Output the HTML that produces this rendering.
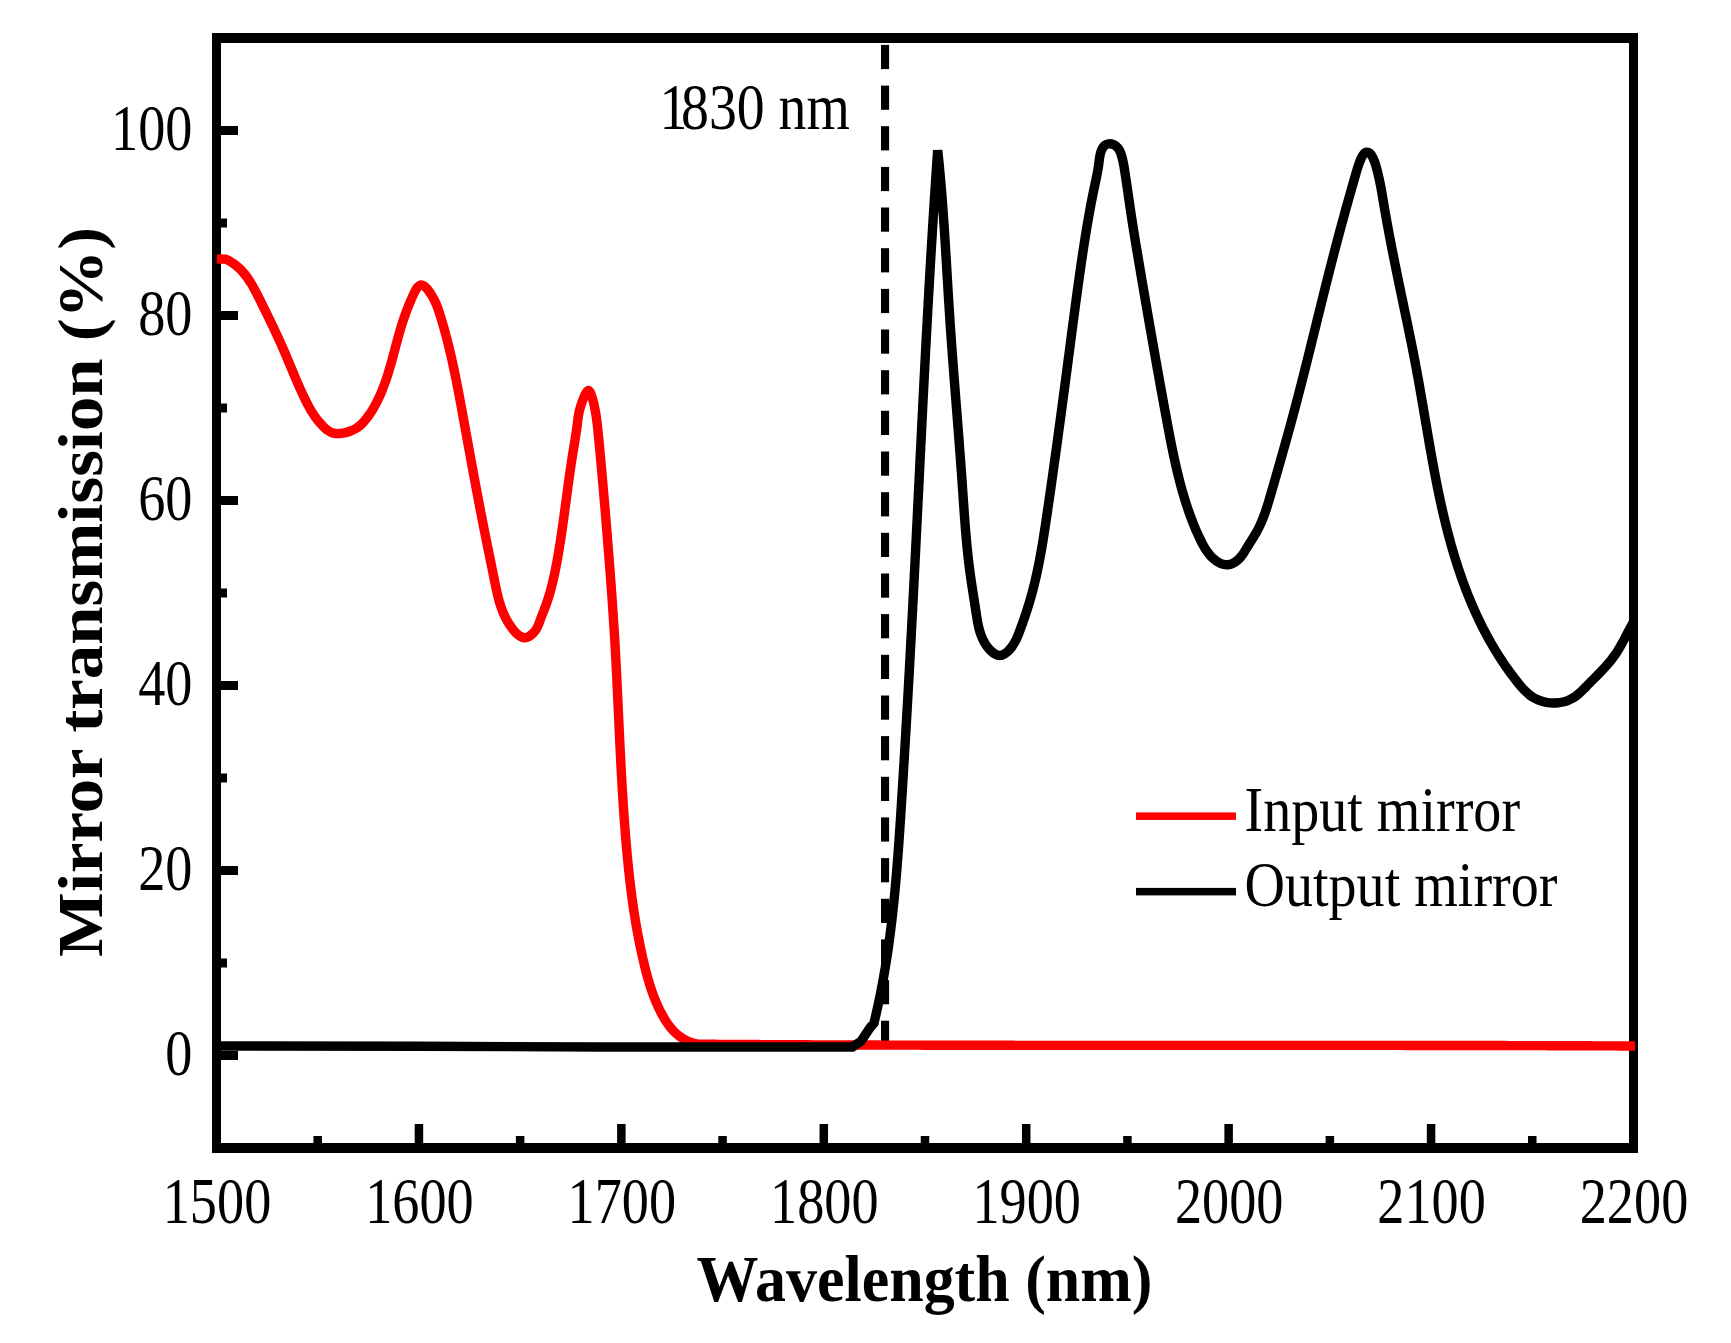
<!DOCTYPE html>
<html lang="en"><head><meta charset="utf-8"><title>Mirror transmission</title>
<style>html,body{margin:0;padding:0;background:#fff}svg{display:block}text{font-family:"Liberation Serif",serif;fill:#000}</style></head><body>
<svg width="1731" height="1343" viewBox="0 0 1731 1343">
<rect width="1731" height="1343" fill="#fff"/>
<g fill="#000">
<rect x="212" y="33" width="1426" height="10"/>
<rect x="212" y="1143" width="1426" height="10"/>
<rect x="212" y="33" width="9" height="1120"/>
<rect x="1629" y="33" width="9" height="1120"/>
<rect x="313.46" y="1136" width="8.5" height="8"/>
<rect x="414.68" y="1124" width="8.5" height="20"/>
<rect x="515.89" y="1136" width="8.5" height="8"/>
<rect x="617.11" y="1124" width="8.5" height="20"/>
<rect x="718.32" y="1136" width="8.5" height="8"/>
<rect x="819.54" y="1124" width="8.5" height="20"/>
<rect x="920.75" y="1136" width="8.5" height="8"/>
<rect x="1021.96" y="1124" width="8.5" height="20"/>
<rect x="1123.18" y="1136" width="8.5" height="8"/>
<rect x="1224.39" y="1124" width="8.5" height="20"/>
<rect x="1325.61" y="1136" width="8.5" height="8"/>
<rect x="1426.82" y="1124" width="8.5" height="20"/>
<rect x="1528.04" y="1136" width="8.5" height="8"/>
<rect x="220" y="1051.00" width="18" height="9"/>
<rect x="220" y="958.50" width="7" height="9"/>
<rect x="220" y="866.00" width="18" height="9"/>
<rect x="220" y="773.50" width="7" height="9"/>
<rect x="220" y="681.00" width="18" height="9"/>
<rect x="220" y="588.50" width="7" height="9"/>
<rect x="220" y="496.00" width="18" height="9"/>
<rect x="220" y="403.50" width="7" height="9"/>
<rect x="220" y="311.00" width="18" height="9"/>
<rect x="220" y="218.50" width="7" height="9"/>
<rect x="220" y="126.00" width="18" height="9"/>
<rect x="881" y="44.9" width="8.1" height="24.2"/>
<rect x="881" y="85.6" width="8.1" height="24.2"/>
<rect x="881" y="126.2" width="8.1" height="24.2"/>
<rect x="881" y="166.9" width="8.1" height="24.2"/>
<rect x="881" y="207.5" width="8.1" height="24.2"/>
<rect x="881" y="248.2" width="8.1" height="24.2"/>
<rect x="881" y="288.9" width="8.1" height="24.2"/>
<rect x="881" y="329.5" width="8.1" height="24.2"/>
<rect x="881" y="370.2" width="8.1" height="24.2"/>
<rect x="881" y="410.8" width="8.1" height="24.2"/>
<rect x="881" y="451.5" width="8.1" height="24.2"/>
<rect x="881" y="492.2" width="8.1" height="24.2"/>
<rect x="881" y="532.8" width="8.1" height="24.2"/>
<rect x="881" y="573.5" width="8.1" height="24.2"/>
<rect x="881" y="614.1" width="8.1" height="24.2"/>
<rect x="881" y="654.8" width="8.1" height="24.2"/>
<rect x="881" y="695.5" width="8.1" height="24.2"/>
<rect x="881" y="736.1" width="8.1" height="24.2"/>
<rect x="881" y="776.8" width="8.1" height="24.2"/>
<rect x="881" y="817.4" width="8.1" height="24.2"/>
<rect x="881" y="858.1" width="8.1" height="24.2"/>
<rect x="881" y="898.8" width="8.1" height="24.2"/>
<rect x="881" y="939.4" width="8.1" height="24.2"/>
<rect x="881" y="980.1" width="8.1" height="24.2"/>
<rect x="881" y="1020.7" width="8.1" height="24.2"/>
</g>
<path d="M216.80 258.90 L226.00 259.20 C227.62 259.96 229.16 260.79 230.63 261.69 C232.10 262.58 233.50 263.53 234.84 264.55 C236.18 265.56 237.45 266.63 238.67 267.74 C239.88 268.86 241.04 270.03 242.15 271.24 C243.26 272.45 244.32 273.71 245.33 275.00 C246.35 276.29 247.32 277.62 248.25 278.97 C249.19 280.33 250.09 281.72 250.95 283.13 C251.82 284.55 252.66 285.98 253.48 287.44 C254.29 288.89 255.09 290.36 255.86 291.85 C256.64 293.33 257.40 294.83 258.15 296.32 C258.91 297.82 259.65 299.33 260.39 300.83 C261.13 302.33 261.87 303.83 262.60 305.33 C263.34 306.83 264.08 308.32 264.81 309.81 C265.54 311.31 266.27 312.80 267.00 314.29 C267.73 315.79 268.46 317.28 269.18 318.77 C269.91 320.26 270.63 321.76 271.35 323.25 C272.07 324.74 272.78 326.24 273.50 327.74 C274.21 329.24 274.92 330.74 275.62 332.24 C276.33 333.74 277.03 335.25 277.72 336.76 C278.42 338.27 279.11 339.79 279.80 341.31 C280.49 342.83 281.17 344.35 281.85 345.89 C282.53 347.42 283.20 348.95 283.87 350.50 C284.54 352.04 285.21 353.59 285.87 355.14 C286.53 356.69 287.18 358.25 287.84 359.81 C288.49 361.37 289.15 362.92 289.80 364.48 C290.45 366.04 291.10 367.60 291.75 369.16 C292.40 370.72 293.05 372.27 293.70 373.82 C294.36 375.37 295.01 376.92 295.66 378.46 C296.32 380.00 296.98 381.54 297.64 383.06 C298.30 384.59 298.97 386.11 299.64 387.62 C300.31 389.13 300.98 390.63 301.67 392.12 C302.35 393.61 303.03 395.08 303.73 396.55 C304.42 398.01 305.13 399.46 305.84 400.89 C306.55 402.33 307.27 403.75 308.02 405.16 C308.77 406.57 309.54 407.97 310.35 409.36 C311.16 410.76 312.01 412.14 312.91 413.53 C313.81 414.91 314.76 416.30 315.78 417.68 C316.79 419.07 317.87 420.45 319.03 421.85 C320.19 423.24 321.43 424.65 322.74 426.01 C324.05 427.36 325.42 428.64 326.84 429.74 C328.25 430.83 329.70 431.73 331.17 432.34 C332.64 432.96 334.13 433.32 335.67 433.48 C337.21 433.65 338.79 433.61 340.43 433.45 C342.07 433.28 343.78 432.98 345.50 432.57 C347.22 432.16 348.95 431.63 350.62 430.99 C352.29 430.35 353.90 429.61 355.39 428.77 C356.89 427.93 358.24 427.00 359.48 425.99 C360.72 424.98 361.86 423.89 362.93 422.74 C364.00 421.59 365.01 420.38 366.01 419.13 C367.00 417.88 367.96 416.59 368.90 415.25 C369.84 413.92 370.75 412.55 371.64 411.14 C372.52 409.74 373.38 408.30 374.21 406.84 C375.05 405.37 375.85 403.88 376.63 402.37 C377.41 400.86 378.16 399.33 378.88 397.78 C379.61 396.23 380.31 394.67 380.98 393.09 C381.65 391.52 382.30 389.93 382.92 388.34 C383.55 386.74 384.15 385.14 384.73 383.53 C385.32 381.92 385.88 380.30 386.42 378.68 C386.97 377.06 387.50 375.43 388.01 373.80 C388.52 372.18 389.02 370.55 389.50 368.92 C389.98 367.29 390.45 365.66 390.91 364.04 C391.37 362.42 391.82 360.80 392.27 359.18 C392.71 357.57 393.14 355.96 393.57 354.36 C393.99 352.76 394.42 351.16 394.84 349.58 C395.25 348.00 395.67 346.43 396.08 344.87 C396.50 343.32 396.91 341.77 397.33 340.23 C397.75 338.69 398.17 337.16 398.59 335.63 C399.02 334.10 399.46 332.57 399.90 331.04 C400.35 329.51 400.81 327.98 401.28 326.44 C401.75 324.91 402.24 323.36 402.75 321.81 C403.25 320.25 403.78 318.69 404.33 317.11 C404.87 315.53 405.45 313.93 406.04 312.32 C406.64 310.71 407.26 309.07 407.92 307.42 C408.57 305.76 409.26 304.08 409.98 302.37 C410.70 300.66 411.45 298.92 412.25 297.15 C413.04 295.39 413.87 293.57 414.74 291.90 C415.61 290.22 416.51 288.67 417.45 287.45 C418.40 286.22 419.39 285.34 420.47 285.04 C421.55 284.75 422.74 285.11 423.97 285.95 C425.19 286.80 426.46 288.09 427.66 289.56 C428.86 291.03 430.00 292.66 431.02 294.24 C432.03 295.82 432.94 297.40 433.76 298.97 C434.59 300.55 435.32 302.12 436.00 303.69 C436.67 305.27 437.28 306.84 437.85 308.41 C438.42 309.98 438.95 311.56 439.46 313.13 C439.97 314.71 440.46 316.29 440.95 317.87 C441.43 319.46 441.91 321.04 442.38 322.63 C442.85 324.22 443.31 325.81 443.76 327.41 C444.22 329.00 444.66 330.60 445.10 332.20 C445.53 333.81 445.96 335.41 446.39 337.02 C446.81 338.62 447.22 340.23 447.63 341.84 C448.04 343.45 448.44 345.07 448.84 346.68 C449.23 348.30 449.62 349.92 450.01 351.54 C450.39 353.16 450.77 354.78 451.14 356.40 C451.51 358.03 451.88 359.65 452.24 361.28 C452.60 362.91 452.95 364.54 453.31 366.17 C453.66 367.80 454.00 369.43 454.35 371.07 C454.69 372.70 455.03 374.33 455.36 375.97 C455.69 377.61 456.02 379.24 456.35 380.88 C456.68 382.52 457.00 384.16 457.32 385.80 C457.64 387.44 457.96 389.08 458.27 390.72 C458.59 392.36 458.90 394.00 459.21 395.65 C459.52 397.29 459.83 398.93 460.13 400.57 C460.44 402.22 460.74 403.86 461.04 405.50 C461.35 407.15 461.65 408.79 461.95 410.43 C462.25 412.08 462.55 413.72 462.85 415.36 C463.15 417.00 463.44 418.65 463.74 420.29 C464.04 421.93 464.34 423.57 464.64 425.21 C464.93 426.85 465.23 428.49 465.53 430.13 C465.83 431.77 466.12 433.41 466.42 435.05 C466.72 436.69 467.02 438.33 467.32 439.97 C467.61 441.61 467.91 443.25 468.21 444.88 C468.51 446.52 468.81 448.16 469.11 449.80 C469.41 451.44 469.71 453.07 470.00 454.71 C470.30 456.35 470.60 457.98 470.90 459.62 C471.20 461.26 471.51 462.89 471.81 464.53 C472.11 466.17 472.41 467.80 472.71 469.44 C473.01 471.07 473.32 472.71 473.62 474.34 C473.92 475.98 474.23 477.62 474.53 479.25 C474.84 480.89 475.14 482.52 475.45 484.16 C475.75 485.79 476.06 487.43 476.37 489.07 C476.68 490.70 476.98 492.34 477.29 493.97 C477.60 495.61 477.91 497.24 478.22 498.88 C478.54 500.52 478.85 502.15 479.16 503.79 C479.47 505.42 479.79 507.06 480.10 508.70 C480.42 510.33 480.74 511.97 481.05 513.61 C481.37 515.25 481.69 516.88 482.01 518.52 C482.33 520.16 482.65 521.79 482.97 523.43 C483.29 525.07 483.62 526.71 483.94 528.35 C484.27 529.99 484.59 531.62 484.92 533.26 C485.25 534.90 485.58 536.54 485.91 538.18 C486.24 539.82 486.57 541.46 486.90 543.10 C487.23 544.74 487.56 546.37 487.89 548.01 C488.22 549.65 488.56 551.29 488.89 552.93 C489.22 554.56 489.55 556.20 489.89 557.84 C490.22 559.47 490.55 561.11 490.89 562.75 C491.22 564.38 491.55 566.01 491.89 567.65 C492.22 569.28 492.55 570.91 492.88 572.55 C493.21 574.18 493.55 575.81 493.88 577.44 C494.21 579.07 494.54 580.69 494.87 582.32 C495.20 583.95 495.53 585.57 495.87 587.19 C496.21 588.81 496.55 590.43 496.92 592.04 C497.28 593.66 497.66 595.26 498.06 596.86 C498.46 598.46 498.89 600.05 499.34 601.63 C499.80 603.21 500.28 604.79 500.80 606.35 C501.32 607.91 501.88 609.46 502.49 610.99 C503.09 612.53 503.74 614.05 504.44 615.56 C505.15 617.07 505.90 618.56 506.71 620.03 C507.53 621.51 508.40 622.97 509.34 624.41 C510.28 625.85 511.28 627.26 512.36 628.66 C513.44 630.06 514.60 631.45 515.83 632.72 C517.07 634.00 518.40 635.16 519.81 636.07 C521.22 636.99 522.72 637.64 524.23 637.79 C525.74 637.95 527.27 637.54 528.75 636.71 C530.23 635.88 531.66 634.67 532.95 633.38 C534.24 632.08 535.38 630.68 536.27 629.25 C537.17 627.82 537.86 626.34 538.46 624.84 C539.07 623.33 539.58 621.80 540.13 620.26 C540.68 618.72 541.27 617.17 541.88 615.62 C542.49 614.06 543.12 612.50 543.74 610.94 C544.36 609.37 544.97 607.80 545.55 606.22 C546.13 604.64 546.69 603.06 547.22 601.47 C547.76 599.88 548.27 598.28 548.77 596.68 C549.26 595.08 549.73 593.48 550.19 591.87 C550.64 590.26 551.08 588.64 551.50 587.03 C551.92 585.41 552.32 583.79 552.71 582.17 C553.10 580.54 553.48 578.92 553.84 577.29 C554.20 575.66 554.55 574.03 554.89 572.39 C555.22 570.76 555.55 569.12 555.87 567.49 C556.19 565.85 556.49 564.21 556.80 562.57 C557.10 560.94 557.39 559.30 557.68 557.66 C557.96 556.02 558.25 554.38 558.52 552.74 C558.80 551.10 559.07 549.46 559.34 547.81 C559.60 546.17 559.86 544.53 560.12 542.89 C560.38 541.25 560.63 539.61 560.88 537.97 C561.13 536.32 561.37 534.68 561.62 533.04 C561.86 531.39 562.10 529.75 562.33 528.11 C562.57 526.46 562.80 524.82 563.03 523.17 C563.26 521.53 563.49 519.88 563.72 518.24 C563.95 516.59 564.17 514.94 564.39 513.30 C564.62 511.65 564.84 510.00 565.06 508.35 C565.28 506.71 565.50 505.06 565.73 503.41 C565.95 501.76 566.17 500.11 566.39 498.46 C566.61 496.80 566.83 495.15 567.05 493.50 C567.27 491.85 567.49 490.19 567.72 488.54 C567.94 486.88 568.16 485.23 568.39 483.57 C568.62 481.92 568.84 480.26 569.08 478.60 C569.31 476.95 569.54 475.29 569.77 473.63 C570.01 471.97 570.25 470.31 570.49 468.65 C570.73 466.99 570.97 465.32 571.22 463.66 C571.47 462.00 571.72 460.33 571.98 458.67 C572.23 457.00 572.49 455.34 572.76 453.67 C573.03 452.00 573.30 450.33 573.57 448.66 C573.84 446.99 574.12 445.33 574.39 443.67 C574.67 442.01 574.94 440.35 575.21 438.71 C575.47 437.07 575.73 435.44 575.98 433.82 C576.23 432.21 576.47 430.61 576.69 429.03 C576.91 427.45 577.12 425.90 577.31 424.37 C577.49 422.83 577.66 421.33 577.85 419.81 C578.03 418.28 578.24 416.74 578.52 415.12 C578.80 413.50 579.14 411.80 579.60 409.98 C580.06 408.16 580.65 406.18 581.32 404.18 C581.99 402.17 582.74 400.15 583.51 398.26 C584.28 396.37 585.06 394.60 585.82 393.18 C586.59 391.75 587.33 390.72 588.06 390.50 C588.78 390.27 589.50 390.99 590.18 392.26 C590.85 393.54 591.49 395.33 592.07 397.15 C592.64 398.97 593.16 400.87 593.62 402.80 C594.08 404.72 594.49 406.67 594.86 408.57 C595.23 410.46 595.56 412.31 595.85 414.09 C596.14 415.88 596.40 417.62 596.63 419.32 C596.87 421.02 597.07 422.68 597.26 424.32 C597.46 425.96 597.63 427.58 597.79 429.19 C597.96 430.79 598.11 432.39 598.27 433.99 C598.42 435.59 598.58 437.19 598.73 438.80 C598.88 440.41 599.04 442.02 599.19 443.64 C599.34 445.25 599.50 446.87 599.65 448.49 C599.80 450.12 599.95 451.74 600.10 453.37 C600.26 455.00 600.41 456.63 600.56 458.26 C600.71 459.90 600.86 461.53 601.01 463.17 C601.16 464.81 601.31 466.46 601.46 468.10 C601.60 469.75 601.75 471.39 601.90 473.04 C602.05 474.69 602.20 476.35 602.34 478.00 C602.49 479.65 602.64 481.31 602.78 482.97 C602.93 484.62 603.07 486.28 603.22 487.94 C603.36 489.61 603.51 491.27 603.65 492.93 C603.80 494.60 603.94 496.26 604.08 497.93 C604.23 499.59 604.37 501.26 604.51 502.93 C604.65 504.60 604.80 506.27 604.94 507.94 C605.08 509.61 605.22 511.28 605.36 512.95 C605.50 514.62 605.64 516.29 605.78 517.96 C605.92 519.64 606.06 521.31 606.19 522.98 C606.33 524.65 606.47 526.32 606.61 528.00 C606.74 529.67 606.88 531.34 607.02 533.01 C607.15 534.68 607.29 536.36 607.43 538.03 C607.56 539.70 607.70 541.37 607.83 543.04 C607.96 544.70 608.10 546.37 608.23 548.04 C608.36 549.71 608.50 551.38 608.63 553.04 C608.76 554.71 608.89 556.37 609.02 558.04 C609.15 559.71 609.28 561.37 609.41 563.03 C609.54 564.70 609.67 566.36 609.80 568.03 C609.92 569.69 610.05 571.35 610.18 573.01 C610.30 574.68 610.43 576.34 610.55 578.00 C610.68 579.66 610.80 581.32 610.93 582.98 C611.05 584.65 611.17 586.31 611.29 587.97 C611.41 589.63 611.53 591.29 611.65 592.95 C611.77 594.61 611.89 596.27 612.01 597.93 C612.13 599.59 612.24 601.24 612.36 602.90 C612.47 604.56 612.59 606.22 612.70 607.88 C612.82 609.54 612.93 611.20 613.04 612.86 C613.15 614.52 613.26 616.18 613.37 617.83 C613.48 619.49 613.59 621.15 613.69 622.81 C613.80 624.47 613.91 626.13 614.01 627.79 C614.11 629.45 614.22 631.11 614.32 632.77 C614.42 634.43 614.52 636.09 614.62 637.75 C614.72 639.41 614.82 641.07 614.91 642.73 C615.01 644.39 615.11 646.05 615.20 647.71 C615.29 649.37 615.39 651.03 615.48 652.69 C615.57 654.35 615.66 656.02 615.75 657.68 C615.84 659.34 615.93 661.00 616.01 662.67 C616.10 664.33 616.18 665.99 616.27 667.65 C616.36 669.32 616.44 670.98 616.52 672.64 C616.61 674.31 616.69 675.97 616.77 677.63 C616.85 679.30 616.93 680.96 617.01 682.63 C617.09 684.29 617.17 685.95 617.25 687.62 C617.33 689.28 617.41 690.95 617.49 692.61 C617.57 694.28 617.65 695.94 617.72 697.61 C617.80 699.27 617.88 700.94 617.96 702.60 C618.03 704.27 618.11 705.94 618.19 707.60 C618.26 709.27 618.34 710.93 618.42 712.60 C618.50 714.26 618.57 715.93 618.65 717.60 C618.73 719.26 618.80 720.93 618.88 722.59 C618.96 724.26 619.03 725.93 619.11 727.59 C619.19 729.26 619.27 730.92 619.34 732.59 C619.42 734.26 619.50 735.92 619.58 737.59 C619.66 739.26 619.74 740.92 619.82 742.59 C619.90 744.25 619.98 745.92 620.06 747.59 C620.14 749.25 620.22 750.92 620.31 752.59 C620.39 754.25 620.47 755.92 620.56 757.58 C620.64 759.25 620.73 760.92 620.81 762.58 C620.90 764.25 620.99 765.91 621.07 767.58 C621.16 769.25 621.25 770.91 621.34 772.58 C621.43 774.24 621.52 775.91 621.62 777.57 C621.71 779.24 621.80 780.90 621.90 782.57 C621.99 784.24 622.09 785.90 622.19 787.57 C622.29 789.23 622.39 790.90 622.49 792.56 C622.59 794.22 622.69 795.89 622.80 797.55 C622.90 799.22 623.01 800.88 623.11 802.55 C623.22 804.21 623.33 805.87 623.44 807.54 C623.55 809.20 623.67 810.87 623.78 812.53 C623.90 814.19 624.01 815.86 624.13 817.52 C624.25 819.18 624.37 820.84 624.50 822.51 C624.62 824.17 624.75 825.83 624.87 827.49 C625.00 829.15 625.13 830.82 625.26 832.48 C625.40 834.14 625.53 835.80 625.67 837.46 C625.81 839.12 625.94 840.78 626.09 842.44 C626.23 844.10 626.37 845.76 626.52 847.42 C626.67 849.08 626.82 850.74 626.97 852.40 C627.12 854.06 627.28 855.72 627.44 857.37 C627.59 859.03 627.76 860.69 627.92 862.35 C628.08 864.01 628.25 865.66 628.42 867.32 C628.59 868.98 628.77 870.63 628.94 872.29 C629.12 873.94 629.30 875.60 629.49 877.26 C629.67 878.91 629.86 880.56 630.06 882.22 C630.25 883.87 630.45 885.53 630.65 887.18 C630.85 888.83 631.06 890.48 631.27 892.14 C631.48 893.79 631.69 895.44 631.91 897.09 C632.13 898.74 632.36 900.39 632.59 902.04 C632.82 903.69 633.06 905.34 633.30 906.99 C633.54 908.64 633.79 910.28 634.04 911.93 C634.29 913.58 634.55 915.22 634.81 916.87 C635.07 918.51 635.34 920.16 635.62 921.80 C635.90 923.45 636.18 925.09 636.46 926.73 C636.75 928.37 637.05 930.01 637.35 931.65 C637.64 933.29 637.95 934.93 638.26 936.57 C638.58 938.21 638.89 939.85 639.22 941.48 C639.55 943.12 639.88 944.75 640.22 946.39 C640.55 948.02 640.90 949.65 641.25 951.28 C641.60 952.91 641.96 954.54 642.33 956.17 C642.69 957.80 643.07 959.43 643.45 961.05 C643.83 962.68 644.21 964.30 644.61 965.92 C645.00 967.55 645.41 969.17 645.82 970.78 C646.24 972.40 646.66 974.01 647.10 975.62 C647.54 977.23 647.99 978.84 648.46 980.44 C648.93 982.04 649.41 983.64 649.91 985.23 C650.41 986.82 650.92 988.40 651.46 989.98 C652.00 991.56 652.55 993.13 653.13 994.70 C653.70 996.26 654.30 997.82 654.92 999.36 C655.55 1000.91 656.19 1002.45 656.86 1003.98 C657.53 1005.52 658.23 1007.04 658.95 1008.55 C659.68 1010.06 660.43 1011.56 661.21 1013.05 C662.00 1014.54 662.81 1016.01 663.66 1017.47 C664.51 1018.92 665.39 1020.35 666.31 1021.74 C667.23 1023.14 668.19 1024.50 669.20 1025.82 C670.20 1027.14 671.25 1028.42 672.34 1029.65 C673.43 1030.87 674.57 1032.05 675.77 1033.16 C676.96 1034.28 678.20 1035.33 679.50 1036.32 C680.80 1037.31 682.15 1038.22 683.57 1039.06 C684.98 1039.89 686.45 1040.65 687.99 1041.32 C689.52 1041.99 691.12 1042.57 692.79 1043.05 C694.46 1043.54 696.19 1043.92 698.00 1044.20 C699.67 1044.21 701.34 1044.22 703.01 1044.23 C704.68 1044.25 706.35 1044.26 708.02 1044.27 C709.69 1044.28 711.36 1044.29 713.03 1044.30 C714.70 1044.31 716.37 1044.32 718.04 1044.33 C719.71 1044.35 721.38 1044.36 723.05 1044.37 C724.72 1044.38 726.39 1044.39 728.06 1044.40 C729.73 1044.41 731.40 1044.42 733.07 1044.43 C734.74 1044.44 736.41 1044.45 738.08 1044.46 C739.75 1044.47 741.42 1044.48 743.09 1044.49 C744.76 1044.50 746.43 1044.51 748.10 1044.52 C749.77 1044.53 751.44 1044.54 753.11 1044.55 C754.78 1044.55 756.45 1044.56 758.12 1044.57 C759.79 1044.58 761.46 1044.59 763.13 1044.60 C764.80 1044.61 766.47 1044.62 768.14 1044.63 C769.81 1044.63 771.48 1044.64 773.15 1044.65 C774.82 1044.66 776.49 1044.67 778.16 1044.68 C779.83 1044.69 781.50 1044.69 783.17 1044.70 C784.84 1044.71 786.51 1044.72 788.18 1044.73 C789.85 1044.73 791.52 1044.74 793.19 1044.75 C794.86 1044.76 796.53 1044.76 798.20 1044.77 C799.87 1044.78 801.54 1044.79 803.21 1044.79 C804.88 1044.80 806.55 1044.81 808.22 1044.82 C809.89 1044.82 811.56 1044.83 813.23 1044.84 C814.90 1044.84 816.57 1044.85 818.24 1044.86 C819.91 1044.87 821.58 1044.87 823.25 1044.88 C824.92 1044.89 826.59 1044.89 828.26 1044.90 C829.93 1044.90 831.60 1044.91 833.27 1044.92 C834.94 1044.92 836.61 1044.93 838.28 1044.94 C839.95 1044.94 841.63 1044.95 843.30 1044.95 C844.97 1044.96 846.64 1044.97 848.31 1044.97 C849.98 1044.98 851.65 1044.98 853.32 1044.99 C854.99 1045.00 856.66 1045.00 858.33 1045.01 C860.00 1045.01 861.67 1045.02 863.34 1045.02 C865.01 1045.03 866.68 1045.03 868.35 1045.04 C870.02 1045.04 871.69 1045.05 873.36 1045.05 C875.03 1045.06 876.70 1045.06 878.37 1045.07 C880.04 1045.07 881.71 1045.08 883.38 1045.08 C885.05 1045.09 886.73 1045.09 888.40 1045.10 C890.07 1045.10 891.74 1045.11 893.41 1045.11 C895.08 1045.11 896.75 1045.12 898.42 1045.12 C900.09 1045.13 901.76 1045.13 903.43 1045.14 C905.10 1045.14 906.77 1045.14 908.44 1045.15 C910.11 1045.15 911.78 1045.16 913.45 1045.16 C915.12 1045.16 916.79 1045.17 918.46 1045.17 C920.13 1045.18 921.80 1045.18 923.48 1045.18 C925.15 1045.19 926.82 1045.19 928.49 1045.19 C930.16 1045.20 931.83 1045.20 933.50 1045.20 C935.17 1045.21 936.84 1045.21 938.51 1045.21 C940.18 1045.22 941.85 1045.22 943.52 1045.22 C945.19 1045.23 946.86 1045.23 948.53 1045.23 C950.20 1045.24 951.87 1045.24 953.54 1045.24 C955.22 1045.24 956.89 1045.25 958.56 1045.25 C960.23 1045.25 961.90 1045.26 963.57 1045.26 C965.24 1045.26 966.91 1045.26 968.58 1045.27 C970.25 1045.27 971.92 1045.27 973.59 1045.27 C975.26 1045.28 976.93 1045.28 978.60 1045.28 C980.27 1045.28 981.94 1045.29 983.62 1045.29 C985.29 1045.29 986.96 1045.29 988.63 1045.29 C990.30 1045.30 991.97 1045.30 993.64 1045.30 C995.31 1045.30 996.98 1045.30 998.65 1045.31 C1000.32 1045.31 1001.99 1045.31 1003.66 1045.31 C1005.33 1045.31 1007.00 1045.32 1008.67 1045.32 C1010.35 1045.32 1012.02 1045.32 1013.69 1045.32 C1015.36 1045.32 1017.03 1045.33 1018.70 1045.33 C1020.37 1045.33 1022.04 1045.33 1023.71 1045.33 C1025.38 1045.33 1027.05 1045.34 1028.72 1045.34 C1030.39 1045.34 1032.06 1045.34 1033.73 1045.34 C1035.40 1045.34 1037.08 1045.34 1038.75 1045.35 C1040.42 1045.35 1042.09 1045.35 1043.76 1045.35 C1045.43 1045.35 1047.10 1045.35 1048.77 1045.35 C1050.44 1045.35 1052.11 1045.35 1053.78 1045.36 C1055.45 1045.36 1057.12 1045.36 1058.79 1045.36 C1060.46 1045.36 1062.14 1045.36 1063.81 1045.36 C1065.48 1045.36 1067.15 1045.36 1068.82 1045.36 C1070.49 1045.36 1072.16 1045.37 1073.83 1045.37 C1075.50 1045.37 1077.17 1045.37 1078.84 1045.37 C1080.51 1045.37 1082.18 1045.37 1083.85 1045.37 C1085.52 1045.37 1087.20 1045.37 1088.87 1045.37 C1090.54 1045.37 1092.21 1045.37 1093.88 1045.37 C1095.55 1045.37 1097.22 1045.37 1098.89 1045.38 C1100.56 1045.38 1102.23 1045.38 1103.90 1045.38 C1105.57 1045.38 1107.24 1045.38 1108.91 1045.38 C1110.58 1045.38 1112.26 1045.38 1113.93 1045.38 C1115.60 1045.38 1117.27 1045.38 1118.94 1045.38 C1120.61 1045.38 1122.28 1045.38 1123.95 1045.38 C1125.62 1045.38 1127.29 1045.38 1128.96 1045.38 C1130.63 1045.38 1132.30 1045.38 1133.97 1045.38 C1135.64 1045.38 1137.32 1045.38 1138.99 1045.38 C1140.66 1045.38 1142.33 1045.38 1144.00 1045.38 C1145.67 1045.38 1147.34 1045.38 1149.01 1045.38 C1150.68 1045.38 1152.35 1045.38 1154.02 1045.38 C1155.69 1045.38 1157.36 1045.38 1159.03 1045.38 C1160.70 1045.38 1162.38 1045.38 1164.05 1045.38 C1165.72 1045.38 1167.39 1045.38 1169.06 1045.38 C1170.73 1045.38 1172.40 1045.38 1174.07 1045.38 C1175.74 1045.38 1177.41 1045.38 1179.08 1045.38 C1180.75 1045.38 1182.42 1045.38 1184.09 1045.38 C1185.76 1045.38 1187.43 1045.38 1189.11 1045.38 C1190.78 1045.38 1192.45 1045.38 1194.12 1045.38 C1195.79 1045.38 1197.46 1045.38 1199.13 1045.38 C1200.80 1045.38 1202.47 1045.38 1204.14 1045.38 C1205.81 1045.38 1207.48 1045.38 1209.15 1045.38 C1210.82 1045.38 1212.49 1045.38 1214.16 1045.38 C1215.84 1045.38 1217.51 1045.38 1219.18 1045.38 C1220.85 1045.38 1222.52 1045.38 1224.19 1045.38 C1225.86 1045.38 1227.53 1045.38 1229.20 1045.38 C1230.87 1045.38 1232.54 1045.38 1234.21 1045.38 C1235.88 1045.38 1237.55 1045.38 1239.22 1045.38 C1240.89 1045.38 1242.56 1045.38 1244.23 1045.38 C1245.91 1045.38 1247.58 1045.38 1249.25 1045.38 C1250.92 1045.38 1252.59 1045.38 1254.26 1045.38 C1255.93 1045.38 1257.60 1045.38 1259.27 1045.38 C1260.94 1045.38 1262.61 1045.38 1264.28 1045.38 C1265.95 1045.38 1267.62 1045.38 1269.29 1045.38 C1270.96 1045.38 1272.63 1045.38 1274.30 1045.38 C1275.97 1045.38 1277.65 1045.38 1279.32 1045.38 C1280.99 1045.38 1282.66 1045.38 1284.33 1045.38 C1286.00 1045.38 1287.67 1045.38 1289.34 1045.38 C1291.01 1045.38 1292.68 1045.38 1294.35 1045.38 C1296.02 1045.38 1297.69 1045.38 1299.36 1045.38 C1301.03 1045.38 1302.70 1045.38 1304.37 1045.38 C1306.04 1045.38 1307.71 1045.38 1309.38 1045.38 C1311.05 1045.38 1312.72 1045.38 1314.40 1045.38 C1316.07 1045.38 1317.74 1045.38 1319.41 1045.38 C1321.08 1045.38 1322.75 1045.38 1324.42 1045.38 C1326.09 1045.39 1327.76 1045.39 1329.43 1045.39 C1331.10 1045.39 1332.77 1045.39 1334.44 1045.39 C1336.11 1045.39 1337.78 1045.39 1339.45 1045.39 C1341.12 1045.39 1342.79 1045.39 1344.46 1045.39 C1346.13 1045.39 1347.80 1045.39 1349.47 1045.39 C1351.14 1045.39 1352.81 1045.39 1354.48 1045.39 C1356.15 1045.40 1357.82 1045.40 1359.49 1045.40 C1361.16 1045.40 1362.84 1045.40 1364.51 1045.40 C1366.18 1045.40 1367.85 1045.40 1369.52 1045.40 C1371.19 1045.40 1372.86 1045.40 1374.53 1045.41 C1376.20 1045.41 1377.87 1045.41 1379.54 1045.41 C1381.21 1045.41 1382.88 1045.41 1384.55 1045.41 C1386.22 1045.41 1387.89 1045.41 1389.56 1045.42 C1391.23 1045.42 1392.90 1045.42 1394.57 1045.42 C1396.24 1045.42 1397.91 1045.42 1399.58 1045.42 C1401.25 1045.42 1402.92 1045.43 1404.59 1045.43 C1406.26 1045.43 1407.93 1045.43 1409.60 1045.43 C1411.27 1045.43 1412.94 1045.43 1414.61 1045.44 C1416.28 1045.44 1417.95 1045.44 1419.62 1045.44 C1421.29 1045.44 1422.96 1045.44 1424.63 1045.45 C1426.30 1045.45 1427.97 1045.45 1429.64 1045.45 C1431.31 1045.45 1432.98 1045.46 1434.65 1045.46 C1436.32 1045.46 1437.99 1045.46 1439.66 1045.46 C1441.33 1045.47 1443.00 1045.47 1444.67 1045.47 C1446.34 1045.47 1448.01 1045.48 1449.68 1045.48 C1451.35 1045.48 1453.02 1045.48 1454.69 1045.48 C1456.36 1045.49 1458.03 1045.49 1459.70 1045.49 C1461.37 1045.49 1463.04 1045.50 1464.71 1045.50 C1466.38 1045.50 1468.05 1045.50 1469.72 1045.51 C1471.39 1045.51 1473.06 1045.51 1474.73 1045.52 C1476.40 1045.52 1478.07 1045.52 1479.74 1045.52 C1481.41 1045.53 1483.08 1045.53 1484.75 1045.53 C1486.42 1045.54 1488.09 1045.54 1489.76 1045.54 C1491.43 1045.55 1493.10 1045.55 1494.77 1045.55 C1496.44 1045.56 1498.11 1045.56 1499.78 1045.56 C1501.45 1045.57 1503.12 1045.57 1504.79 1045.57 C1506.46 1045.58 1508.13 1045.58 1509.80 1045.58 C1511.47 1045.59 1513.14 1045.59 1514.80 1045.60 C1516.47 1045.60 1518.14 1045.60 1519.81 1045.61 C1521.48 1045.61 1523.15 1045.62 1524.82 1045.62 C1526.49 1045.62 1528.16 1045.63 1529.83 1045.63 C1531.50 1045.64 1533.17 1045.64 1534.84 1045.64 C1536.51 1045.65 1538.18 1045.65 1539.85 1045.66 C1541.52 1045.66 1543.19 1045.67 1544.86 1045.67 C1546.53 1045.68 1548.20 1045.68 1549.87 1045.69 C1551.54 1045.69 1553.21 1045.70 1554.88 1045.70 C1556.54 1045.71 1558.21 1045.71 1559.88 1045.72 C1561.55 1045.72 1563.22 1045.73 1564.89 1045.73 C1566.56 1045.74 1568.23 1045.74 1569.90 1045.75 C1571.57 1045.75 1573.24 1045.76 1574.91 1045.76 C1576.58 1045.77 1578.25 1045.77 1579.92 1045.78 C1581.59 1045.79 1583.25 1045.79 1584.92 1045.80 C1586.59 1045.80 1588.26 1045.81 1589.93 1045.82 C1591.60 1045.82 1593.27 1045.83 1594.94 1045.83 C1596.61 1045.84 1598.28 1045.85 1599.95 1045.85 C1601.62 1045.86 1603.29 1045.87 1604.96 1045.87 C1606.62 1045.88 1608.29 1045.89 1609.96 1045.89 C1611.63 1045.90 1613.30 1045.91 1614.97 1045.91 C1616.64 1045.92 1618.31 1045.93 1619.98 1045.93 C1621.65 1045.94 1623.32 1045.95 1624.99 1045.96 C1626.65 1045.96 1628.32 1045.97 1629.99 1045.98 C1631.66 1045.99 1633.33 1045.99 1635.00 1046.00" fill="none" stroke="#ff0000" stroke-width="9.4" stroke-linejoin="round"/>
<path d="M216.50 1046.00 L418.00 1046.30 L600.00 1047.00 L852.50 1047.00 L861.10 1041.20 L870.10 1027.70 L873.90 1023.20 C874.30 1021.58 874.70 1019.95 875.08 1018.32 C875.47 1016.69 875.85 1015.07 876.23 1013.44 C876.60 1011.81 876.97 1010.18 877.33 1008.55 C877.70 1006.92 878.05 1005.29 878.40 1003.65 C878.76 1002.02 879.10 1000.39 879.44 998.75 C879.78 997.12 880.11 995.48 880.44 993.85 C880.77 992.21 881.09 990.58 881.41 988.94 C881.73 987.30 882.04 985.66 882.34 984.02 C882.65 982.39 882.95 980.75 883.25 979.11 C883.54 977.47 883.84 975.82 884.12 974.18 C884.41 972.54 884.69 970.90 884.96 969.26 C885.24 967.61 885.51 965.97 885.78 964.32 C886.04 962.68 886.31 961.03 886.56 959.39 C886.82 957.74 887.07 956.10 887.32 954.45 C887.57 952.80 887.81 951.15 888.05 949.51 C888.29 947.86 888.52 946.21 888.76 944.56 C888.99 942.91 889.21 941.26 889.43 939.61 C889.66 937.96 889.88 936.31 890.09 934.65 C890.31 933.00 890.52 931.35 890.72 929.70 C890.93 928.04 891.13 926.39 891.33 924.74 C891.53 923.08 891.73 921.43 891.92 919.77 C892.11 918.12 892.30 916.46 892.49 914.81 C892.67 913.15 892.85 911.50 893.03 909.84 C893.21 908.18 893.39 906.52 893.56 904.87 C893.73 903.21 893.90 901.55 894.07 899.89 C894.24 898.23 894.40 896.58 894.56 894.92 C894.72 893.26 894.88 891.60 895.04 889.94 C895.19 888.28 895.35 886.62 895.50 884.96 C895.65 883.30 895.80 881.63 895.94 879.97 C896.09 878.31 896.23 876.65 896.37 874.99 C896.51 873.33 896.65 871.66 896.79 870.00 C896.92 868.34 897.06 866.68 897.19 865.01 C897.32 863.35 897.45 861.69 897.58 860.02 C897.71 858.36 897.84 856.70 897.97 855.03 C898.09 853.37 898.21 851.70 898.34 850.04 C898.46 848.37 898.58 846.71 898.70 845.05 C898.82 843.38 898.94 841.72 899.05 840.05 C899.17 838.39 899.28 836.72 899.40 835.06 C899.51 833.39 899.63 831.72 899.74 830.06 C899.85 828.39 899.96 826.73 900.07 825.06 C900.18 823.40 900.29 821.73 900.40 820.06 C900.51 818.40 900.62 816.73 900.73 815.07 C900.83 813.40 900.94 811.73 901.05 810.07 C901.15 808.40 901.26 806.74 901.37 805.07 C901.47 803.40 901.58 801.74 901.68 800.07 C901.79 798.41 901.89 796.74 902.00 795.07 C902.10 793.41 902.21 791.74 902.31 790.07 C902.42 788.41 902.52 786.74 902.62 785.08 C902.73 783.41 902.83 781.74 902.93 780.08 C903.04 778.41 903.14 776.74 903.24 775.08 C903.34 773.41 903.45 771.75 903.55 770.08 C903.65 768.41 903.75 766.75 903.85 765.08 C903.95 763.41 904.06 761.75 904.16 760.08 C904.26 758.42 904.36 756.75 904.46 755.08 C904.56 753.42 904.66 751.75 904.76 750.08 C904.86 748.42 904.96 746.75 905.05 745.09 C905.15 743.42 905.25 741.75 905.35 740.09 C905.45 738.42 905.55 736.75 905.65 735.09 C905.74 733.42 905.84 731.75 905.94 730.09 C906.04 728.42 906.13 726.76 906.23 725.09 C906.33 723.42 906.42 721.76 906.52 720.09 C906.62 718.42 906.71 716.76 906.81 715.09 C906.91 713.42 907.00 711.76 907.10 710.09 C907.19 708.43 907.29 706.76 907.38 705.09 C907.48 703.43 907.57 701.76 907.67 700.09 C907.76 698.43 907.85 696.76 907.95 695.09 C908.04 693.43 908.14 691.76 908.23 690.09 C908.32 688.43 908.42 686.76 908.51 685.09 C908.60 683.43 908.70 681.76 908.79 680.10 C908.88 678.43 908.97 676.76 909.07 675.10 C909.16 673.43 909.25 671.76 909.34 670.10 C909.43 668.43 909.53 666.76 909.62 665.10 C909.71 663.43 909.80 661.76 909.89 660.10 C909.98 658.43 910.07 656.76 910.16 655.10 C910.25 653.43 910.34 651.76 910.43 650.10 C910.52 648.43 910.61 646.76 910.70 645.10 C910.79 643.43 910.88 641.76 910.97 640.10 C911.06 638.43 911.15 636.76 911.24 635.10 C911.33 633.43 911.42 631.76 911.50 630.10 C911.59 628.43 911.68 626.76 911.77 625.10 C911.86 623.43 911.94 621.76 912.03 620.10 C912.12 618.43 912.21 616.76 912.30 615.10 C912.38 613.43 912.47 611.76 912.56 610.10 C912.64 608.43 912.73 606.76 912.82 605.10 C912.90 603.43 912.99 601.76 913.08 600.10 C913.16 598.43 913.25 596.76 913.34 595.10 C913.42 593.43 913.51 591.76 913.59 590.10 C913.68 588.43 913.76 586.76 913.85 585.10 C913.93 583.43 914.02 581.76 914.10 580.10 C914.19 578.43 914.27 576.76 914.36 575.10 C914.44 573.43 914.53 571.76 914.61 570.10 C914.70 568.43 914.78 566.76 914.87 565.10 C914.95 563.43 915.03 561.76 915.12 560.10 C915.20 558.43 915.29 556.76 915.37 555.10 C915.45 553.43 915.54 551.76 915.62 550.09 C915.70 548.43 915.79 546.76 915.87 545.09 C915.95 543.43 916.04 541.76 916.12 540.09 C916.20 538.43 916.29 536.76 916.37 535.09 C916.45 533.43 916.54 531.76 916.62 530.09 C916.70 528.43 916.78 526.76 916.87 525.09 C916.95 523.43 917.03 521.76 917.12 520.09 C917.20 518.43 917.28 516.76 917.36 515.09 C917.45 513.43 917.53 511.76 917.61 510.09 C917.69 508.42 917.77 506.76 917.86 505.09 C917.94 503.42 918.02 501.76 918.10 500.09 C918.19 498.42 918.27 496.76 918.35 495.09 C918.43 493.42 918.51 491.76 918.60 490.09 C918.68 488.42 918.76 486.76 918.84 485.09 C918.93 483.42 919.01 481.76 919.09 480.09 C919.17 478.42 919.25 476.76 919.34 475.09 C919.42 473.42 919.50 471.76 919.58 470.09 C919.67 468.42 919.75 466.76 919.83 465.09 C919.91 463.42 919.99 461.76 920.08 460.09 C920.16 458.42 920.24 456.76 920.32 455.09 C920.41 453.42 920.49 451.76 920.57 450.09 C920.65 448.42 920.74 446.76 920.82 445.09 C920.90 443.42 920.99 441.76 921.07 440.09 C921.15 438.42 921.23 436.76 921.32 435.09 C921.40 433.42 921.48 431.76 921.57 430.09 C921.65 428.42 921.73 426.76 921.82 425.09 C921.90 423.42 921.98 421.76 922.07 420.09 C922.15 418.42 922.23 416.76 922.32 415.09 C922.40 413.42 922.48 411.76 922.57 410.09 C922.65 408.42 922.74 406.76 922.82 405.09 C922.90 403.43 922.99 401.76 923.07 400.09 C923.16 398.43 923.24 396.76 923.33 395.09 C923.41 393.43 923.50 391.76 923.58 390.09 C923.67 388.43 923.75 386.76 923.84 385.09 C923.92 383.43 924.01 381.76 924.09 380.10 C924.18 378.43 924.26 376.76 924.35 375.10 C924.43 373.43 924.52 371.76 924.61 370.10 C924.69 368.43 924.78 366.77 924.87 365.10 C924.95 363.43 925.04 361.77 925.13 360.10 C925.21 358.43 925.30 356.77 925.39 355.10 C925.48 353.44 925.56 351.77 925.65 350.10 C925.74 348.44 925.83 346.77 925.92 345.11 C926.00 343.44 926.09 341.77 926.18 340.11 C926.27 338.44 926.36 336.78 926.45 335.11 C926.54 333.44 926.63 331.78 926.72 330.11 C926.80 328.45 926.89 326.78 926.98 325.11 C927.08 323.45 927.17 321.78 927.26 320.12 C927.35 318.45 927.44 316.78 927.53 315.12 C927.62 313.45 927.71 311.79 927.80 310.12 C927.89 308.46 927.99 306.79 928.08 305.12 C928.17 303.46 928.26 301.79 928.36 300.13 C928.45 298.46 928.54 296.80 928.64 295.13 C928.73 293.47 928.82 291.80 928.92 290.13 C929.01 288.47 929.10 286.80 929.20 285.14 C929.29 283.47 929.39 281.81 929.48 280.14 C929.58 278.48 929.67 276.81 929.77 275.14 C929.87 273.48 929.96 271.81 930.06 270.15 C930.16 268.48 930.25 266.82 930.35 265.15 C930.45 263.49 930.54 261.82 930.64 260.16 C930.74 258.49 930.84 256.83 930.94 255.16 C931.04 253.50 931.13 251.83 931.23 250.17 C931.33 248.50 931.43 246.84 931.53 245.17 C931.63 243.51 931.73 241.84 931.83 240.18 C931.93 238.51 932.04 236.85 932.14 235.18 C932.24 233.52 932.34 231.85 932.44 230.19 C932.55 228.52 932.65 226.86 932.75 225.19 C932.85 223.53 932.96 221.86 933.06 220.20 C933.17 218.53 933.27 216.87 933.38 215.20 C933.48 213.54 933.59 211.87 933.69 210.21 C933.80 208.54 933.90 206.88 934.01 205.22 C934.12 203.55 934.22 201.89 934.33 200.22 C934.44 198.56 934.55 196.89 934.65 195.23 C934.76 193.56 934.87 191.90 934.98 190.24 C935.09 188.57 935.20 186.91 935.31 185.24 C935.42 183.58 935.53 181.91 935.64 180.25 C935.75 178.59 935.86 176.92 935.98 175.26 C936.09 173.59 936.20 171.93 936.31 170.27 C936.43 168.60 936.54 166.94 936.65 165.27 C936.77 163.61 936.88 161.95 937.00 160.28 C937.11 158.62 937.23 156.95 937.34 155.29 C937.46 153.63 937.58 151.96 937.69 150.30 C937.88 151.96 938.06 153.62 938.23 155.27 C938.40 156.93 938.58 158.59 938.74 160.25 C938.91 161.91 939.07 163.57 939.24 165.23 C939.40 166.89 939.56 168.55 939.71 170.21 C939.87 171.87 940.02 173.53 940.17 175.19 C940.32 176.85 940.47 178.51 940.61 180.17 C940.76 181.84 940.90 183.50 941.04 185.16 C941.18 186.82 941.32 188.48 941.46 190.15 C941.59 191.81 941.73 193.47 941.86 195.13 C941.99 196.80 942.12 198.46 942.25 200.12 C942.38 201.79 942.50 203.45 942.63 205.12 C942.75 206.78 942.87 208.44 942.99 210.11 C943.11 211.77 943.23 213.44 943.35 215.10 C943.47 216.76 943.58 218.43 943.70 220.09 C943.81 221.76 943.92 223.42 944.04 225.09 C944.15 226.75 944.26 228.42 944.37 230.09 C944.48 231.75 944.58 233.42 944.69 235.08 C944.80 236.75 944.90 238.41 945.01 240.08 C945.11 241.75 945.22 243.41 945.32 245.08 C945.43 246.74 945.53 248.41 945.63 250.08 C945.73 251.74 945.83 253.41 945.93 255.08 C946.04 256.74 946.14 258.41 946.24 260.07 C946.34 261.74 946.44 263.41 946.54 265.07 C946.64 266.74 946.73 268.41 946.83 270.07 C946.93 271.74 947.03 273.41 947.13 275.07 C947.23 276.74 947.33 278.41 947.43 280.07 C947.53 281.74 947.63 283.41 947.73 285.07 C947.83 286.74 947.93 288.41 948.03 290.07 C948.13 291.74 948.23 293.41 948.33 295.07 C948.43 296.74 948.54 298.40 948.64 300.07 C948.74 301.74 948.85 303.40 948.95 305.07 C949.06 306.73 949.16 308.40 949.27 310.07 C949.37 311.73 949.48 313.40 949.59 315.06 C949.70 316.73 949.81 318.39 949.92 320.06 C950.03 321.73 950.14 323.39 950.25 325.06 C950.37 326.72 950.48 328.39 950.60 330.05 C950.71 331.72 950.83 333.38 950.94 335.05 C951.06 336.71 951.18 338.38 951.30 340.04 C951.42 341.70 951.54 343.37 951.66 345.03 C951.78 346.70 951.90 348.36 952.02 350.03 C952.14 351.69 952.27 353.35 952.39 355.02 C952.51 356.68 952.64 358.35 952.76 360.01 C952.89 361.67 953.01 363.34 953.14 365.00 C953.27 366.67 953.39 368.33 953.52 369.99 C953.65 371.66 953.77 373.32 953.90 374.99 C954.03 376.65 954.16 378.31 954.29 379.98 C954.42 381.64 954.55 383.30 954.68 384.97 C954.81 386.63 954.94 388.29 955.07 389.96 C955.20 391.62 955.33 393.29 955.46 394.95 C955.59 396.61 955.72 398.28 955.85 399.94 C955.98 401.60 956.11 403.27 956.24 404.93 C956.37 406.59 956.50 408.26 956.64 409.92 C956.77 411.58 956.90 413.25 957.03 414.91 C957.16 416.58 957.29 418.24 957.42 419.90 C957.55 421.57 957.68 423.23 957.81 424.89 C957.94 426.56 958.07 428.22 958.20 429.89 C958.33 431.55 958.46 433.21 958.59 434.88 C958.72 436.54 958.85 438.21 958.98 439.87 C959.11 441.54 959.24 443.20 959.36 444.86 C959.49 446.53 959.62 448.19 959.74 449.86 C959.87 451.52 960.00 453.19 960.12 454.85 C960.25 456.52 960.37 458.18 960.50 459.85 C960.62 461.51 960.74 463.18 960.87 464.84 C960.99 466.51 961.11 468.17 961.23 469.84 C961.36 471.50 961.48 473.17 961.60 474.83 C961.72 476.50 961.83 478.16 961.95 479.83 C962.07 481.50 962.19 483.16 962.30 484.83 C962.42 486.49 962.53 488.16 962.65 489.83 C962.76 491.49 962.88 493.16 962.99 494.83 C963.10 496.49 963.22 498.16 963.33 499.83 C963.45 501.49 963.56 503.16 963.68 504.82 C963.79 506.49 963.91 508.16 964.02 509.82 C964.14 511.49 964.26 513.15 964.38 514.82 C964.50 516.49 964.62 518.15 964.75 519.82 C964.87 521.48 965.00 523.15 965.13 524.81 C965.26 526.47 965.39 528.14 965.53 529.80 C965.66 531.46 965.80 533.13 965.94 534.79 C966.09 536.45 966.23 538.11 966.38 539.77 C966.53 541.44 966.69 543.10 966.84 544.76 C967.00 546.42 967.17 548.08 967.34 549.73 C967.50 551.39 967.68 553.05 967.86 554.71 C968.04 556.37 968.22 558.02 968.41 559.68 C968.60 561.33 968.80 562.99 969.00 564.64 C969.20 566.29 969.41 567.95 969.63 569.60 C969.85 571.25 970.07 572.90 970.30 574.55 C970.53 576.20 970.76 577.85 971.00 579.50 C971.24 581.15 971.48 582.80 971.73 584.45 C971.98 586.10 972.23 587.75 972.48 589.40 C972.74 591.05 972.99 592.70 973.25 594.35 C973.51 596.00 973.77 597.65 974.03 599.30 C974.28 600.96 974.54 602.61 974.80 604.27 C975.06 605.92 975.32 607.58 975.58 609.24 C975.83 610.90 976.09 612.56 976.34 614.23 C976.60 615.89 976.86 617.55 977.13 619.21 C977.41 620.86 977.71 622.51 978.04 624.15 C978.37 625.79 978.73 627.42 979.15 629.02 C979.57 630.63 980.03 632.22 980.56 633.79 C981.09 635.35 981.69 636.89 982.37 638.40 C983.05 639.91 983.81 641.39 984.67 642.83 C985.52 644.28 986.48 645.68 987.54 647.05 C988.61 648.41 989.79 649.75 991.09 651.00 C992.38 652.24 993.78 653.37 995.24 654.18 C996.69 654.99 998.20 655.49 999.71 655.49 C1001.22 655.48 1002.74 654.97 1004.20 654.15 C1005.66 653.32 1007.07 652.18 1008.36 650.91 C1009.65 649.64 1010.81 648.27 1011.84 646.87 C1012.87 645.48 1013.78 644.04 1014.60 642.56 C1015.43 641.09 1016.16 639.59 1016.84 638.06 C1017.52 636.53 1018.14 634.99 1018.75 633.43 C1019.35 631.88 1019.94 630.32 1020.53 628.75 C1021.11 627.18 1021.69 625.61 1022.25 624.04 C1022.82 622.47 1023.38 620.89 1023.93 619.31 C1024.48 617.72 1025.02 616.14 1025.55 614.55 C1026.08 612.96 1026.60 611.37 1027.12 609.77 C1027.63 608.18 1028.13 606.58 1028.62 604.97 C1029.11 603.37 1029.59 601.77 1030.06 600.16 C1030.53 598.55 1030.99 596.94 1031.44 595.33 C1031.89 593.72 1032.33 592.10 1032.75 590.49 C1033.18 588.87 1033.59 587.25 1033.99 585.63 C1034.40 584.01 1034.79 582.38 1035.17 580.76 C1035.56 579.13 1035.93 577.51 1036.29 575.88 C1036.66 574.25 1037.01 572.62 1037.36 570.99 C1037.71 569.36 1038.05 567.72 1038.38 566.09 C1038.71 564.45 1039.03 562.82 1039.35 561.18 C1039.66 559.54 1039.97 557.90 1040.27 556.26 C1040.58 554.62 1040.87 552.98 1041.16 551.34 C1041.45 549.69 1041.74 548.05 1042.02 546.41 C1042.30 544.76 1042.57 543.12 1042.84 541.47 C1043.11 539.82 1043.38 538.18 1043.64 536.53 C1043.90 534.88 1044.16 533.23 1044.42 531.58 C1044.67 529.93 1044.93 528.28 1045.18 526.63 C1045.43 524.98 1045.67 523.33 1045.92 521.68 C1046.17 520.03 1046.41 518.38 1046.66 516.73 C1046.90 515.08 1047.14 513.43 1047.39 511.78 C1047.63 510.12 1047.87 508.47 1048.11 506.82 C1048.35 505.17 1048.59 503.52 1048.83 501.87 C1049.07 500.21 1049.31 498.56 1049.55 496.91 C1049.79 495.26 1050.03 493.61 1050.26 491.96 C1050.50 490.30 1050.74 488.65 1050.97 487.00 C1051.21 485.35 1051.44 483.69 1051.68 482.04 C1051.91 480.39 1052.15 478.74 1052.38 477.08 C1052.62 475.43 1052.85 473.78 1053.08 472.13 C1053.31 470.47 1053.55 468.82 1053.78 467.17 C1054.01 465.52 1054.24 463.86 1054.47 462.21 C1054.70 460.56 1054.93 458.90 1055.16 457.25 C1055.39 455.60 1055.62 453.94 1055.85 452.29 C1056.08 450.64 1056.30 448.98 1056.53 447.33 C1056.76 445.68 1056.99 444.02 1057.21 442.37 C1057.44 440.72 1057.67 439.06 1057.89 437.41 C1058.12 435.76 1058.34 434.10 1058.57 432.45 C1058.79 430.79 1059.02 429.14 1059.24 427.49 C1059.47 425.83 1059.69 424.18 1059.91 422.53 C1060.14 420.87 1060.36 419.22 1060.58 417.56 C1060.81 415.91 1061.03 414.25 1061.25 412.60 C1061.47 410.95 1061.70 409.29 1061.92 407.64 C1062.14 405.98 1062.36 404.33 1062.58 402.67 C1062.80 401.02 1063.02 399.37 1063.24 397.71 C1063.46 396.06 1063.68 394.40 1063.90 392.75 C1064.12 391.09 1064.34 389.44 1064.56 387.78 C1064.78 386.13 1065.00 384.47 1065.22 382.82 C1065.43 381.16 1065.65 379.51 1065.87 377.85 C1066.09 376.20 1066.31 374.54 1066.53 372.89 C1066.74 371.23 1066.96 369.58 1067.18 367.92 C1067.40 366.27 1067.61 364.61 1067.83 362.96 C1068.05 361.30 1068.26 359.65 1068.48 357.99 C1068.70 356.34 1068.92 354.68 1069.13 353.03 C1069.35 351.37 1069.56 349.72 1069.78 348.06 C1070.00 346.41 1070.21 344.75 1070.43 343.10 C1070.65 341.44 1070.86 339.79 1071.08 338.13 C1071.29 336.48 1071.51 334.82 1071.73 333.17 C1071.94 331.51 1072.16 329.86 1072.38 328.20 C1072.60 326.54 1072.81 324.89 1073.03 323.23 C1073.25 321.58 1073.47 319.92 1073.68 318.27 C1073.90 316.61 1074.12 314.96 1074.34 313.31 C1074.56 311.65 1074.78 310.00 1075.00 308.34 C1075.22 306.69 1075.44 305.03 1075.67 303.38 C1075.89 301.72 1076.11 300.07 1076.34 298.42 C1076.56 296.76 1076.78 295.11 1077.01 293.46 C1077.24 291.80 1077.46 290.15 1077.69 288.49 C1077.92 286.84 1078.15 285.19 1078.38 283.54 C1078.61 281.88 1078.84 280.23 1079.07 278.58 C1079.30 276.93 1079.53 275.27 1079.77 273.62 C1080.00 271.97 1080.24 270.32 1080.48 268.67 C1080.71 267.02 1080.95 265.36 1081.19 263.71 C1081.43 262.06 1081.68 260.41 1081.92 258.76 C1082.16 257.11 1082.41 255.46 1082.66 253.81 C1082.90 252.16 1083.15 250.51 1083.40 248.86 C1083.66 247.21 1083.91 245.57 1084.17 243.92 C1084.42 242.27 1084.68 240.62 1084.94 238.97 C1085.21 237.33 1085.47 235.68 1085.74 234.03 C1086.01 232.38 1086.28 230.74 1086.55 229.09 C1086.82 227.45 1087.10 225.80 1087.38 224.15 C1087.66 222.51 1087.94 220.86 1088.23 219.22 C1088.52 217.57 1088.81 215.93 1089.11 214.29 C1089.40 212.64 1089.70 211.00 1090.00 209.36 C1090.31 207.71 1090.61 206.07 1090.92 204.43 C1091.24 202.79 1091.55 201.14 1091.87 199.50 C1092.19 197.86 1092.52 196.22 1092.85 194.58 C1093.18 192.94 1093.51 191.30 1093.85 189.66 C1094.19 188.02 1094.54 186.38 1094.89 184.75 C1095.24 183.11 1095.59 181.47 1095.94 179.83 C1096.28 178.19 1096.62 176.55 1096.95 174.91 C1097.27 173.27 1097.58 171.63 1097.87 169.99 C1098.15 168.34 1098.42 166.70 1098.65 165.05 C1098.88 163.40 1099.07 161.75 1099.27 160.09 C1099.47 158.44 1099.69 156.78 1100.03 155.13 C1100.36 153.48 1100.82 151.82 1101.48 150.19 C1102.15 148.55 1103.03 146.99 1104.19 145.83 C1105.35 144.68 1106.85 144.00 1108.51 143.84 C1110.17 143.68 1111.96 144.00 1113.56 144.68 C1115.15 145.36 1116.55 146.39 1117.60 147.55 C1118.65 148.71 1119.40 150.02 1120.01 151.44 C1120.63 152.85 1121.14 154.36 1121.61 155.93 C1122.08 157.50 1122.50 159.14 1122.87 160.81 C1123.25 162.49 1123.58 164.20 1123.89 165.94 C1124.20 167.67 1124.49 169.42 1124.76 171.17 C1125.04 172.91 1125.30 174.65 1125.56 176.37 C1125.82 178.09 1126.07 179.80 1126.33 181.50 C1126.58 183.19 1126.82 184.87 1127.07 186.55 C1127.31 188.22 1127.55 189.89 1127.79 191.55 C1128.03 193.20 1128.27 194.85 1128.51 196.50 C1128.75 198.14 1128.98 199.78 1129.22 201.42 C1129.45 203.05 1129.69 204.68 1129.93 206.31 C1130.17 207.94 1130.41 209.57 1130.65 211.20 C1130.89 212.83 1131.13 214.46 1131.38 216.09 C1131.63 217.72 1131.88 219.36 1132.13 220.99 C1132.38 222.63 1132.64 224.27 1132.90 225.91 C1133.16 227.55 1133.42 229.20 1133.68 230.84 C1133.95 232.48 1134.22 234.13 1134.48 235.78 C1134.75 237.43 1135.02 239.08 1135.30 240.73 C1135.57 242.38 1135.84 244.03 1136.12 245.68 C1136.39 247.33 1136.67 248.98 1136.94 250.63 C1137.22 252.28 1137.50 253.93 1137.78 255.59 C1138.05 257.24 1138.33 258.89 1138.61 260.54 C1138.89 262.19 1139.17 263.84 1139.45 265.49 C1139.72 267.14 1140.00 268.79 1140.28 270.44 C1140.56 272.09 1140.84 273.74 1141.12 275.39 C1141.40 277.03 1141.68 278.68 1141.96 280.33 C1142.24 281.98 1142.52 283.63 1142.80 285.27 C1143.09 286.92 1143.37 288.57 1143.65 290.22 C1143.93 291.86 1144.21 293.51 1144.49 295.16 C1144.78 296.80 1145.06 298.45 1145.34 300.09 C1145.62 301.74 1145.91 303.39 1146.19 305.03 C1146.47 306.68 1146.76 308.32 1147.04 309.97 C1147.33 311.61 1147.61 313.26 1147.90 314.90 C1148.18 316.54 1148.47 318.19 1148.75 319.83 C1149.04 321.48 1149.32 323.12 1149.61 324.76 C1149.90 326.41 1150.18 328.05 1150.47 329.69 C1150.76 331.34 1151.04 332.98 1151.33 334.62 C1151.62 336.27 1151.91 337.91 1152.20 339.55 C1152.49 341.20 1152.78 342.84 1153.06 344.48 C1153.35 346.12 1153.64 347.76 1153.93 349.41 C1154.22 351.05 1154.51 352.69 1154.81 354.33 C1155.10 355.98 1155.39 357.62 1155.68 359.26 C1155.97 360.90 1156.26 362.54 1156.56 364.18 C1156.85 365.83 1157.14 367.47 1157.44 369.11 C1157.73 370.75 1158.03 372.39 1158.32 374.03 C1158.61 375.68 1158.91 377.32 1159.21 378.96 C1159.50 380.60 1159.80 382.24 1160.09 383.88 C1160.39 385.52 1160.69 387.17 1160.98 388.81 C1161.28 390.45 1161.58 392.09 1161.88 393.73 C1162.18 395.37 1162.47 397.01 1162.77 398.66 C1163.07 400.30 1163.37 401.94 1163.67 403.58 C1163.97 405.22 1164.28 406.86 1164.58 408.50 C1164.88 410.15 1165.18 411.79 1165.48 413.43 C1165.78 415.07 1166.09 416.71 1166.39 418.36 C1166.69 420.00 1167.00 421.64 1167.30 423.28 C1167.61 424.92 1167.92 426.57 1168.22 428.21 C1168.53 429.85 1168.84 431.49 1169.16 433.13 C1169.47 434.77 1169.78 436.41 1170.10 438.05 C1170.42 439.69 1170.74 441.33 1171.07 442.97 C1171.39 444.61 1171.72 446.25 1172.05 447.88 C1172.38 449.52 1172.72 451.15 1173.06 452.79 C1173.41 454.42 1173.75 456.06 1174.10 457.69 C1174.46 459.32 1174.81 460.95 1175.18 462.58 C1175.54 464.21 1175.91 465.84 1176.29 467.47 C1176.67 469.09 1177.05 470.72 1177.44 472.34 C1177.83 473.97 1178.23 475.59 1178.63 477.21 C1179.04 478.83 1179.45 480.44 1179.88 482.06 C1180.30 483.67 1180.73 485.29 1181.17 486.90 C1181.61 488.51 1182.06 490.12 1182.52 491.72 C1182.98 493.33 1183.45 494.93 1183.93 496.54 C1184.41 498.14 1184.90 499.74 1185.40 501.33 C1185.90 502.93 1186.41 504.52 1186.93 506.11 C1187.46 507.70 1187.99 509.28 1188.54 510.86 C1189.09 512.44 1189.65 514.02 1190.22 515.59 C1190.79 517.16 1191.38 518.72 1191.98 520.28 C1192.58 521.84 1193.19 523.39 1193.82 524.94 C1194.44 526.48 1195.08 528.02 1195.74 529.55 C1196.40 531.08 1197.07 532.60 1197.75 534.11 C1198.44 535.62 1199.14 537.13 1199.86 538.62 C1200.58 540.11 1201.31 541.60 1202.06 543.07 C1202.82 544.54 1203.61 545.99 1204.45 547.42 C1205.29 548.84 1206.18 550.24 1207.15 551.60 C1208.11 552.96 1209.16 554.28 1210.30 555.54 C1211.44 556.81 1212.69 558.04 1214.04 559.17 C1215.39 560.31 1216.83 561.34 1218.33 562.21 C1219.83 563.08 1221.39 563.78 1222.98 564.24 C1224.56 564.69 1226.18 564.91 1227.79 564.81 C1229.40 564.71 1231.02 564.26 1232.58 563.52 C1234.14 562.78 1235.65 561.77 1237.04 560.62 C1238.43 559.47 1239.70 558.19 1240.80 556.90 C1241.89 555.61 1242.84 554.30 1243.71 552.96 C1244.58 551.62 1245.39 550.27 1246.21 548.90 C1247.03 547.53 1247.88 546.14 1248.76 544.74 C1249.64 543.34 1250.54 541.92 1251.44 540.50 C1252.35 539.07 1253.25 537.62 1254.13 536.17 C1255.02 534.71 1255.89 533.24 1256.71 531.76 C1257.54 530.27 1258.32 528.78 1259.07 527.27 C1259.81 525.76 1260.52 524.24 1261.19 522.71 C1261.86 521.18 1262.49 519.63 1263.10 518.08 C1263.71 516.53 1264.29 514.97 1264.85 513.41 C1265.40 511.84 1265.94 510.27 1266.45 508.69 C1266.97 507.11 1267.47 505.52 1267.96 503.93 C1268.44 502.34 1268.92 500.75 1269.39 499.15 C1269.86 497.56 1270.32 495.96 1270.78 494.36 C1271.24 492.76 1271.70 491.16 1272.17 489.56 C1272.63 487.96 1273.09 486.36 1273.55 484.76 C1274.01 483.16 1274.47 481.55 1274.93 479.95 C1275.40 478.35 1275.86 476.74 1276.32 475.14 C1276.78 473.54 1277.24 471.93 1277.70 470.33 C1278.16 468.72 1278.62 467.12 1279.08 465.51 C1279.54 463.90 1279.99 462.30 1280.45 460.69 C1280.91 459.08 1281.37 457.48 1281.82 455.87 C1282.28 454.26 1282.73 452.65 1283.19 451.04 C1283.64 449.44 1284.10 447.83 1284.55 446.22 C1285.00 444.61 1285.45 443.00 1285.90 441.39 C1286.35 439.78 1286.80 438.17 1287.25 436.56 C1287.70 434.95 1288.14 433.34 1288.59 431.72 C1289.03 430.11 1289.47 428.50 1289.92 426.89 C1290.36 425.28 1290.80 423.67 1291.24 422.05 C1291.67 420.44 1292.11 418.83 1292.54 417.21 C1292.98 415.60 1293.41 413.99 1293.84 412.38 C1294.27 410.76 1294.70 409.15 1295.13 407.53 C1295.56 405.92 1295.98 404.31 1296.41 402.69 C1296.83 401.08 1297.26 399.46 1297.68 397.85 C1298.10 396.23 1298.52 394.62 1298.94 393.00 C1299.35 391.39 1299.77 389.77 1300.19 388.16 C1300.60 386.54 1301.02 384.93 1301.43 383.31 C1301.84 381.70 1302.26 380.08 1302.67 378.46 C1303.08 376.85 1303.49 375.23 1303.90 373.62 C1304.31 372.00 1304.71 370.38 1305.12 368.77 C1305.53 367.15 1305.93 365.53 1306.34 363.92 C1306.74 362.30 1307.15 360.68 1307.55 359.06 C1307.96 357.45 1308.36 355.83 1308.76 354.21 C1309.16 352.59 1309.57 350.98 1309.97 349.36 C1310.37 347.74 1310.77 346.12 1311.17 344.50 C1311.57 342.89 1311.97 341.27 1312.37 339.65 C1312.77 338.03 1313.17 336.41 1313.57 334.79 C1313.97 333.18 1314.37 331.56 1314.77 329.94 C1315.17 328.32 1315.57 326.70 1315.97 325.08 C1316.37 323.46 1316.77 321.84 1317.16 320.22 C1317.56 318.61 1317.96 316.99 1318.36 315.37 C1318.76 313.75 1319.16 312.13 1319.56 310.51 C1319.96 308.89 1320.36 307.27 1320.76 305.65 C1321.16 304.03 1321.57 302.41 1321.97 300.79 C1322.37 299.17 1322.77 297.55 1323.17 295.93 C1323.58 294.31 1323.98 292.69 1324.38 291.07 C1324.79 289.45 1325.19 287.83 1325.60 286.21 C1326.01 284.59 1326.41 282.97 1326.82 281.35 C1327.23 279.73 1327.64 278.11 1328.04 276.49 C1328.45 274.87 1328.86 273.25 1329.28 271.63 C1329.69 270.01 1330.10 268.39 1330.51 266.77 C1330.93 265.15 1331.34 263.53 1331.76 261.91 C1332.18 260.29 1332.59 258.67 1333.01 257.05 C1333.43 255.43 1333.85 253.81 1334.27 252.19 C1334.70 250.57 1335.12 248.95 1335.54 247.33 C1335.97 245.71 1336.39 244.09 1336.82 242.47 C1337.25 240.85 1337.68 239.23 1338.11 237.61 C1338.54 235.99 1338.97 234.38 1339.40 232.76 C1339.84 231.14 1340.27 229.53 1340.71 227.91 C1341.14 226.30 1341.58 224.68 1342.02 223.07 C1342.45 221.46 1342.89 219.85 1343.33 218.24 C1343.77 216.63 1344.21 215.02 1344.66 213.41 C1345.10 211.80 1345.54 210.20 1345.98 208.60 C1346.43 206.99 1346.87 205.39 1347.32 203.79 C1347.77 202.19 1348.21 200.59 1348.66 198.99 C1349.11 197.40 1349.56 195.81 1350.01 194.21 C1350.46 192.62 1350.91 191.03 1351.36 189.45 C1351.81 187.86 1352.26 186.28 1352.71 184.69 C1353.17 183.11 1353.62 181.53 1354.07 179.96 C1354.53 178.38 1354.98 176.81 1355.44 175.24 C1355.89 173.67 1356.34 172.11 1356.81 170.54 C1357.28 168.96 1357.76 167.38 1358.31 165.75 C1358.85 164.12 1359.45 162.44 1360.15 160.69 C1360.85 158.94 1361.66 157.10 1362.66 155.50 C1363.66 153.90 1364.83 152.72 1366.05 152.31 C1367.28 151.90 1368.55 152.18 1369.72 153.17 C1370.89 154.16 1371.96 155.90 1372.81 157.57 C1373.66 159.24 1374.30 160.91 1374.86 162.59 C1375.42 164.26 1375.91 165.93 1376.38 167.59 C1376.85 169.25 1377.29 170.90 1377.70 172.55 C1378.12 174.20 1378.51 175.84 1378.88 177.47 C1379.24 179.11 1379.59 180.74 1379.92 182.37 C1380.25 183.99 1380.57 185.62 1380.87 187.24 C1381.17 188.86 1381.46 190.48 1381.75 192.09 C1382.03 193.71 1382.30 195.33 1382.58 196.94 C1382.85 198.56 1383.12 200.17 1383.39 201.79 C1383.66 203.41 1383.93 205.03 1384.21 206.65 C1384.48 208.27 1384.76 209.90 1385.05 211.52 C1385.33 213.15 1385.62 214.77 1385.91 216.40 C1386.20 218.03 1386.49 219.66 1386.78 221.29 C1387.08 222.93 1387.38 224.56 1387.68 226.19 C1387.98 227.83 1388.28 229.46 1388.59 231.10 C1388.90 232.74 1389.20 234.38 1389.52 236.02 C1389.83 237.66 1390.14 239.30 1390.46 240.94 C1390.77 242.58 1391.09 244.22 1391.41 245.86 C1391.73 247.50 1392.05 249.14 1392.37 250.79 C1392.70 252.43 1393.02 254.07 1393.35 255.72 C1393.68 257.36 1394.00 259.01 1394.33 260.65 C1394.66 262.29 1395.00 263.94 1395.33 265.58 C1395.66 267.22 1396.00 268.87 1396.33 270.51 C1396.67 272.16 1397.00 273.80 1397.34 275.44 C1397.68 277.08 1398.02 278.73 1398.35 280.37 C1398.69 282.01 1399.03 283.65 1399.37 285.29 C1399.71 286.93 1400.05 288.57 1400.40 290.21 C1400.74 291.85 1401.08 293.48 1401.42 295.12 C1401.76 296.76 1402.11 298.40 1402.45 300.03 C1402.79 301.67 1403.13 303.30 1403.47 304.94 C1403.82 306.57 1404.16 308.21 1404.50 309.84 C1404.84 311.47 1405.18 313.11 1405.52 314.74 C1405.86 316.37 1406.21 318.01 1406.54 319.64 C1406.88 321.27 1407.22 322.90 1407.56 324.54 C1407.90 326.17 1408.24 327.80 1408.57 329.43 C1408.91 331.06 1409.24 332.70 1409.57 334.33 C1409.91 335.96 1410.24 337.59 1410.57 339.23 C1410.90 340.86 1411.23 342.49 1411.56 344.12 C1411.89 345.76 1412.21 347.39 1412.54 349.02 C1412.86 350.66 1413.18 352.29 1413.50 353.93 C1413.82 355.56 1414.14 357.20 1414.45 358.83 C1414.77 360.47 1415.08 362.10 1415.39 363.74 C1415.71 365.38 1416.01 367.01 1416.32 368.65 C1416.63 370.29 1416.93 371.93 1417.23 373.57 C1417.53 375.21 1417.83 376.85 1418.13 378.49 C1418.42 380.13 1418.72 381.77 1419.01 383.41 C1419.30 385.05 1419.59 386.70 1419.88 388.34 C1420.17 389.98 1420.46 391.63 1420.74 393.27 C1421.03 394.92 1421.31 396.56 1421.60 398.20 C1421.88 399.85 1422.16 401.49 1422.45 403.14 C1422.73 404.78 1423.01 406.43 1423.29 408.08 C1423.57 409.72 1423.85 411.37 1424.13 413.02 C1424.41 414.66 1424.69 416.31 1424.97 417.95 C1425.25 419.60 1425.53 421.25 1425.81 422.89 C1426.09 424.54 1426.37 426.19 1426.65 427.83 C1426.93 429.48 1427.21 431.13 1427.49 432.77 C1427.77 434.42 1428.06 436.07 1428.34 437.71 C1428.62 439.36 1428.91 441.01 1429.19 442.65 C1429.48 444.30 1429.77 445.94 1430.05 447.59 C1430.34 449.23 1430.63 450.88 1430.93 452.52 C1431.22 454.17 1431.51 455.81 1431.81 457.46 C1432.10 459.10 1432.40 460.74 1432.70 462.39 C1433.00 464.03 1433.30 465.67 1433.61 467.32 C1433.91 468.96 1434.22 470.60 1434.53 472.24 C1434.84 473.88 1435.16 475.52 1435.47 477.16 C1435.79 478.80 1436.11 480.44 1436.43 482.08 C1436.76 483.71 1437.08 485.35 1437.41 486.99 C1437.74 488.62 1438.08 490.26 1438.42 491.89 C1438.75 493.53 1439.10 495.16 1439.44 496.80 C1439.79 498.43 1440.14 500.06 1440.49 501.69 C1440.85 503.32 1441.20 504.95 1441.57 506.58 C1441.93 508.21 1442.30 509.84 1442.67 511.47 C1443.05 513.09 1443.42 514.72 1443.81 516.34 C1444.19 517.97 1444.58 519.59 1444.97 521.21 C1445.37 522.83 1445.77 524.45 1446.17 526.07 C1446.58 527.69 1446.99 529.31 1447.40 530.93 C1447.82 532.54 1448.24 534.16 1448.67 535.77 C1449.10 537.38 1449.54 539.00 1449.98 540.61 C1450.42 542.22 1450.87 543.82 1451.32 545.43 C1451.78 547.04 1452.24 548.64 1452.71 550.24 C1453.18 551.85 1453.65 553.45 1454.13 555.04 C1454.61 556.64 1455.10 558.24 1455.60 559.83 C1456.10 561.42 1456.60 563.01 1457.11 564.60 C1457.62 566.19 1458.14 567.78 1458.67 569.36 C1459.19 570.94 1459.73 572.52 1460.27 574.10 C1460.81 575.67 1461.36 577.25 1461.92 578.82 C1462.48 580.39 1463.04 581.96 1463.62 583.52 C1464.19 585.09 1464.77 586.65 1465.37 588.21 C1465.96 589.76 1466.56 591.32 1467.17 592.87 C1467.77 594.42 1468.39 595.97 1469.02 597.51 C1469.65 599.05 1470.28 600.59 1470.93 602.13 C1471.57 603.67 1472.22 605.20 1472.89 606.72 C1473.55 608.25 1474.22 609.78 1474.91 611.29 C1475.59 612.81 1476.28 614.33 1476.98 615.84 C1477.68 617.35 1478.40 618.86 1479.12 620.36 C1479.84 621.86 1480.57 623.35 1481.32 624.85 C1482.06 626.34 1482.81 627.83 1483.57 629.31 C1484.34 630.79 1485.11 632.27 1485.89 633.74 C1486.68 635.21 1487.47 636.68 1488.28 638.14 C1489.09 639.60 1489.90 641.06 1490.73 642.51 C1491.56 643.96 1492.40 645.41 1493.25 646.85 C1494.10 648.29 1494.96 649.72 1495.84 651.15 C1496.71 652.58 1497.59 654.00 1498.49 655.42 C1499.39 656.83 1500.30 658.24 1501.22 659.65 C1502.14 661.05 1503.07 662.45 1504.02 663.84 C1504.96 665.24 1505.92 666.62 1506.89 668.00 C1507.86 669.38 1508.84 670.75 1509.84 672.12 C1510.83 673.49 1511.84 674.85 1512.86 676.20 C1513.88 677.55 1514.91 678.90 1515.96 680.24 C1517.01 681.58 1518.07 682.91 1519.14 684.23 C1520.22 685.54 1521.32 686.83 1522.45 688.09 C1523.58 689.34 1524.74 690.55 1525.94 691.70 C1527.15 692.85 1528.39 693.94 1529.69 694.96 C1530.98 695.97 1532.33 696.90 1533.74 697.73 C1535.14 698.57 1536.61 699.30 1538.13 699.93 C1539.65 700.57 1541.22 701.10 1542.83 701.54 C1544.43 701.97 1546.07 702.31 1547.73 702.54 C1549.40 702.78 1551.08 702.92 1552.77 702.95 C1554.46 702.99 1556.16 702.93 1557.84 702.77 C1559.53 702.61 1561.21 702.34 1562.85 701.97 C1564.49 701.61 1566.11 701.13 1567.67 700.55 C1569.23 699.97 1570.74 699.28 1572.18 698.48 C1573.62 697.68 1574.99 696.77 1576.31 695.77 C1577.62 694.78 1578.88 693.70 1580.12 692.57 C1581.35 691.44 1582.55 690.26 1583.73 689.06 C1584.92 687.86 1586.09 686.64 1587.27 685.43 C1588.45 684.21 1589.64 683.01 1590.82 681.81 C1592.01 680.61 1593.21 679.42 1594.39 678.23 C1595.58 677.04 1596.77 675.85 1597.95 674.65 C1599.12 673.45 1600.29 672.25 1601.45 671.05 C1602.60 669.84 1603.75 668.62 1604.87 667.39 C1605.99 666.16 1607.10 664.92 1608.18 663.66 C1609.26 662.40 1610.31 661.12 1611.34 659.81 C1612.37 658.51 1613.37 657.19 1614.33 655.84 C1615.29 654.48 1616.22 653.10 1617.12 651.70 C1618.02 650.30 1618.89 648.88 1619.74 647.44 C1620.58 646.00 1621.41 644.55 1622.22 643.08 C1623.03 641.61 1623.83 640.14 1624.61 638.66 C1625.40 637.18 1626.17 635.69 1626.95 634.20 C1627.72 632.72 1628.49 631.23 1629.26 629.75 C1630.04 628.27 1630.82 626.80 1631.60 625.34 C1632.39 623.88 1633.19 622.43 1634.00 621.00" fill="none" stroke="#000" stroke-width="9.4" stroke-linejoin="miter" stroke-miterlimit="3"/>
<rect x="1136" y="812.4" width="100" height="7.5" fill="#ff0000"/>
<rect x="1136" y="887.9" width="100" height="7.5" fill="#000"/>
<text id="y0" transform="translate(192.5,1075.0) scale(0.835,1)" font-size="65" text-anchor="end">0</text>
<text id="y20" transform="translate(192.5,890.0) scale(0.835,1)" font-size="65" text-anchor="end">20</text>
<text id="y40" transform="translate(192.5,705.0) scale(0.835,1)" font-size="65" text-anchor="end">40</text>
<text id="y60" transform="translate(192.5,520.0) scale(0.835,1)" font-size="65" text-anchor="end">60</text>
<text id="y80" transform="translate(192.5,335.0) scale(0.835,1)" font-size="65" text-anchor="end">80</text>
<text id="y100" transform="translate(192.5,150.0) scale(0.835,1)" font-size="65" text-anchor="end">100</text>
<text id="x1500" transform="translate(217.0,1223) scale(0.835,1)" font-size="65" text-anchor="middle">1500</text>
<text id="x1600" transform="translate(419.42857142857144,1223) scale(0.835,1)" font-size="65" text-anchor="middle">1600</text>
<text id="x1700" transform="translate(621.8571428571429,1223) scale(0.835,1)" font-size="65" text-anchor="middle">1700</text>
<text id="x1800" transform="translate(824.2857142857143,1223) scale(0.835,1)" font-size="65" text-anchor="middle">1800</text>
<text id="x1900" transform="translate(1026.7142857142858,1223) scale(0.835,1)" font-size="65" text-anchor="middle">1900</text>
<text id="x2000" transform="translate(1229.142857142857,1223) scale(0.835,1)" font-size="65" text-anchor="middle">2000</text>
<text id="x2100" transform="translate(1431.5714285714287,1223) scale(0.835,1)" font-size="65" text-anchor="middle">2100</text>
<text id="x2200" transform="translate(1634.0,1223) scale(0.835,1)" font-size="65" text-anchor="middle">2200</text>
<text id="xt" transform="translate(924.5,1300.5) scale(0.953,1)" font-size="65" text-anchor="middle" font-weight="bold">Wavelength (nm)</text>
<text id="yt" transform="translate(102.1,591.9) rotate(-90) scale(1,0.933)" font-size="68.7" text-anchor="middle" font-weight="bold">Mirror transmission (%)</text>
<text id="ann" transform="translate(659.5,129) scale(0.858,1)" font-size="65" text-anchor="start">1<tspan dx="-7.4">830 nm</tspan></text>
<text id="l1" transform="translate(1244.5,831) scale(0.876,1)" font-size="64" text-anchor="start">Input mirror</text>
<text id="l2" transform="translate(1244.5,905.7) scale(0.876,1)" font-size="64" text-anchor="start">Output mirror</text>
</svg></body></html>
